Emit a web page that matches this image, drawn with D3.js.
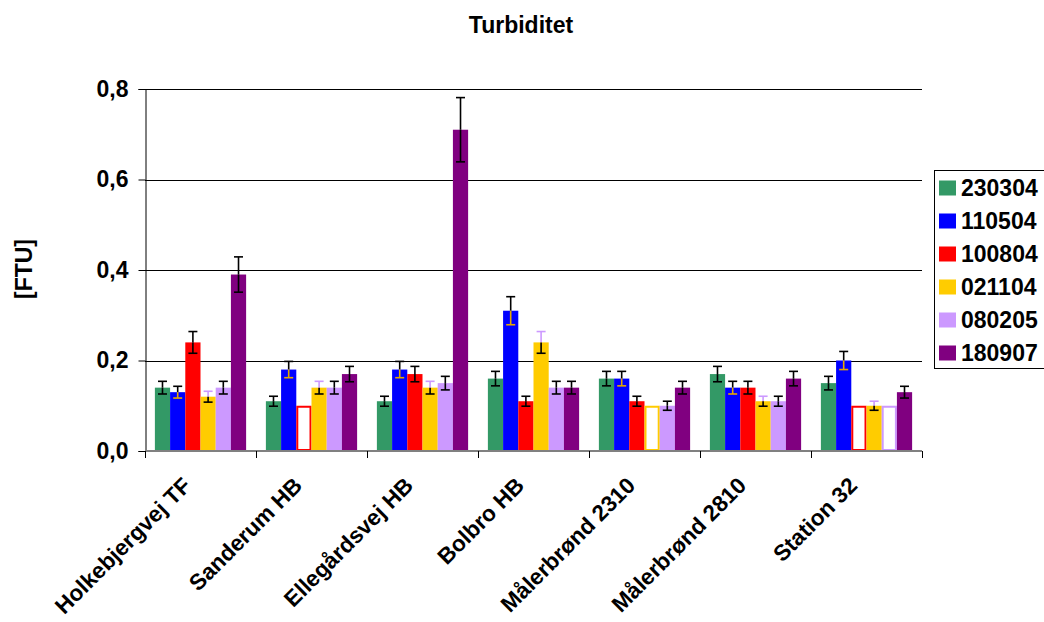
<!DOCTYPE html>
<html><head><meta charset="utf-8">
<script src="https://cdn.jsdelivr.net/npm/d3@7"></script>
<style>
html,body{margin:0;padding:0;background:#fff;}
svg text{font-family:"Liberation Sans",Arial,sans-serif;font-weight:bold;fill:#000;}
</style></head>
<body>
<svg id="c" width="1044" height="622"></svg>
<script>
const title = "Turbiditet";
const yLabel = "[FTU]";
const categories = ["Holkebjergvej TF","Sanderum HB","Ellegårdsvej HB","Bolbro HB","Målerbrønd 2310","Målerbrønd 2810","Station 32"];
const series = ["230304","110504","100804","021104","080205","180907"];
const colors = ["#339966","#0000ff","#ff0000","#ffcc00","#cc99ff","#800080"];
// values per series (one value per category)
const s230304 = [0.14,0.11,0.11,0.16,0.16,0.17,0.15];
const s110504 = [0.13,0.18,0.18,0.31,0.16,0.14,0.20];
const s100804 = [0.24,0.10,0.17,0.11,0.11,0.14,0.10];
const s021104 = [0.12,0.14,0.14,0.24,0.10,0.11,0.10];
const s080205 = [0.14,0.14,0.15,0.14,0.10,0.11,0.10];
const s180907 = [0.39,0.17,0.71,0.14,0.14,0.16,0.13];
// error bar half-lengths (null = no error bar)
const e230304 = [0.014,0.011,0.011,0.016,0.016,0.017,0.015];
const e110504 = [0.013,0.018,0.018,0.031,0.016,0.014,0.020];
const e100804 = [0.024,null,0.017,0.011,0.011,0.014,null];
const e021104 = [0.012,0.014,0.014,0.024,null,0.011,0.010];
const e080205 = [0.014,0.014,0.015,0.014,0.010,0.011,null];
const e180907 = [0.039,0.017,0.071,0.014,0.014,0.016,0.013];
// hollow (below detection limit) bars
const h100804 = [false,true,false,false,false,false,true];
const h021104 = [false,false,false,false,true,false,false];
const h080205 = [false,false,false,false,false,false,true];
const yTicks = [0,0.2,0.4,0.6,0.8];

const values = [s230304,s110504,s100804,s021104,s080205,s180907];
const errors = [e230304,e110504,e100804,e021104,e080205,e180907];
const noHollow = categories.map(()=>false);
const hollow = [noHollow,noHollow,h100804,h021104,h080205,noHollow];

const FS = "23px";
const svg = d3.select("#c");
const L=145, R=922, T=89, B=451;
const x = d3.scaleBand().domain(categories).range([L,R]).padding(0);
const xs = d3.scaleBand().domain(series).range([0,x.bandwidth()]).paddingInner(0).paddingOuter(0.65);
const y = d3.scaleLinear().domain([0,0.8]).range([B,T]);
const fmt = d => d3.format(".1f")(d).replace(".",",");

// gridlines
svg.append("g").selectAll("line").data(yTicks.filter(d=>d>0)).join("line")
  .attr("x1",L).attr("x2",R).attr("y1",d=>Math.round(y(d))+0.5).attr("y2",d=>Math.round(y(d))+0.5)
  .attr("stroke","#000").attr("stroke-width",1);

// bars
const data = [];
series.forEach((s,i)=>categories.forEach((c,j)=>data.push({s,c,i,v:values[i][j],e:errors[i][j],h:hollow[i][j]})));
const bars = svg.append("g");
bars.selectAll("rect").data(data).join("rect")
  .attr("x",d=>x(d.c)+xs(d.s)+(d.h?1:0))
  .attr("y",d=>y(d.v)+(d.h?1:0))
  .attr("width",d=>xs.bandwidth()-(d.h?2:0))
  .attr("height",d=>B-y(d.v)-(d.h?2:0))
  .attr("fill",d=>d.h?"#fff":colors[d.i])
  .attr("stroke",d=>d.h?colors[d.i]:"none")
  .attr("stroke-width",2);

// error bars
const eg = svg.append("g");
data.filter(d=>d.e!=null).forEach(d=>{
  const cx = x(d.c)+xs(d.s)+xs.bandwidth()/2;
  const yt=y(d.v+d.e), yb=y(d.v-d.e), ym=y(d.v);
  const upCol = d.i===3 ? "#cc99ff" : "#000";
  const loCol = d.i===1 ? "#e6a800" : "#000";
  eg.append("line").attr("x1",cx).attr("x2",cx).attr("y1",yt).attr("y2",ym).attr("stroke",upCol).attr("stroke-width",1.6);
  eg.append("line").attr("x1",cx-4.5).attr("x2",cx+4.5).attr("y1",yt).attr("y2",yt).attr("stroke",upCol).attr("stroke-width",1.6);
  eg.append("line").attr("x1",cx).attr("x2",cx).attr("y1",ym).attr("y2",yb).attr("stroke",loCol).attr("stroke-width",1.6);
  eg.append("line").attr("x1",cx-4.5).attr("x2",cx+4.5).attr("y1",yb).attr("y2",yb).attr("stroke",loCol).attr("stroke-width",1.6);
});

// y axis
const ya = svg.append("g").attr("transform",`translate(${L+0.5},0)`)
  .call(d3.axisLeft(y).tickValues(yTicks).tickFormat(fmt).tickSize(7).tickPadding(10));
ya.select(".domain").attr("stroke","#000");
ya.selectAll(".tick line").attr("stroke","#000");
ya.selectAll("text").style("font-size",FS).attr("fill","#000");

// x axis
const xa = svg.append("g").attr("transform",`translate(0,${B})`);
xa.append("line").attr("x1",L).attr("x2",R).attr("y1",0).attr("y2",0).attr("stroke","#808080").attr("stroke-width",2);
const bounds = categories.map(c=>x(c)).concat([R]);
xa.selectAll("line.t").data(bounds).join("line").attr("class","t")
  .attr("x1",d=>Math.round(d)+0.5).attr("x2",d=>Math.round(d)+0.5).attr("y1",0).attr("y2",7).attr("stroke","#000");
svg.append("g").selectAll("text").data(categories).join("text")
  .attr("transform",d=>`translate(${x(d)+x.bandwidth()/2-8},487) rotate(-45)`)
  .attr("text-anchor","end").style("font-size","22.5px").text(d=>d);

// title
svg.append("text").attr("x",521).attr("y",33).attr("text-anchor","middle").style("font-size",FS).text(title);
// y label
svg.append("text").attr("transform","translate(32,269) rotate(-90)").attr("text-anchor","middle").style("font-size",FS).text(yLabel);

// legend
const lg = svg.append("g");
lg.append("rect").attr("x",934.5).attr("y",170.5).attr("width",130).attr("height",198).attr("fill","#fff").attr("stroke","#000");
series.forEach((s,i)=>{
  const cy = 188 + i*33;
  lg.append("rect").attr("x",939).attr("y",cy-7.5).attr("width",17).attr("height",15).attr("fill",colors[i]);
  lg.append("text").attr("x",961).attr("y",cy).attr("dy","0.36em").style("font-size",FS).text(s);
});
</script>
</body></html>
